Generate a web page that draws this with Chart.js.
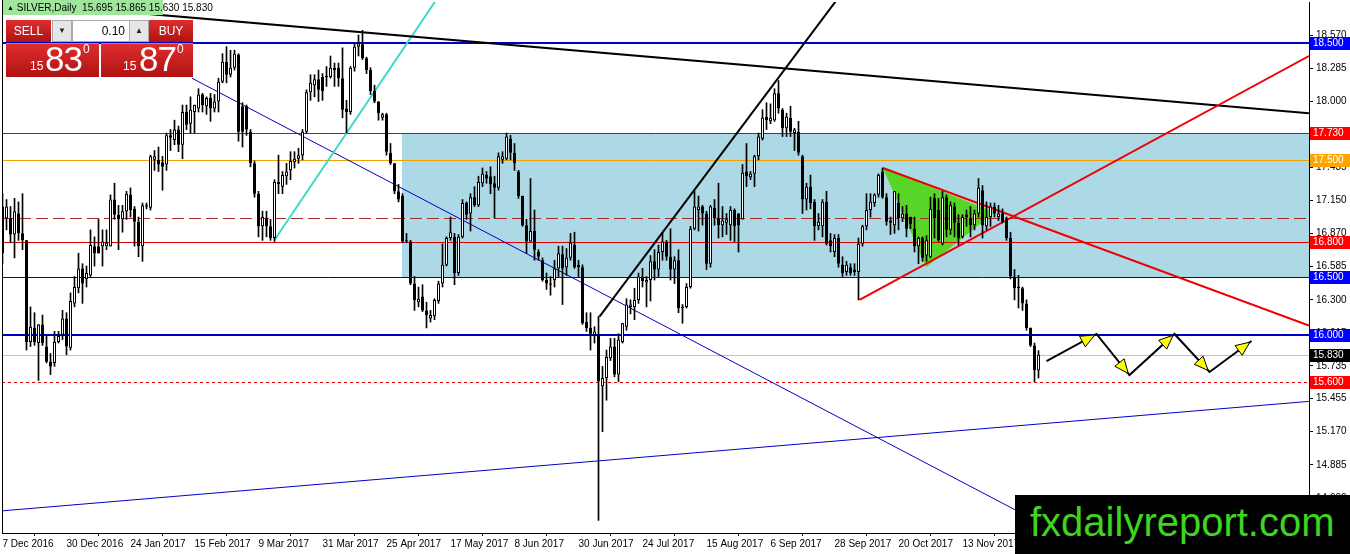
<!DOCTYPE html>
<html>
<head>
<meta charset="utf-8">
<script src="https://cdn.jsdelivr.net/npm/chart.js@4.4.1/dist/chart.umd.min.js"></script>
<style>
html, body { margin: 0; padding: 0; background: #fff; }
#wrap { position: relative; width: 1350px; height: 554px; overflow: hidden; font-family: "Liberation Sans", Arial, sans-serif; }
#chart { position: absolute; left: 0; top: 0; }
#titlebg { position: absolute; left: 3px; top: 0; width: 160px; height: 15px; background: #9fe59b; }
#title { position: absolute; left: 7px; top: 2px; font-size: 10px; line-height: 12px; color: #000; white-space: pre; }
#title .tri { font-size: 7px; vertical-align: 1px; }
.red { position: absolute; background: linear-gradient(#de2e2e, #b01212); color: #fff; }
.btn { font-size: 12px; text-align: center; line-height: 22px; }
.spin { position: absolute; background: #e6e6e6; border: 1px solid #aaa; box-sizing: border-box; font-size: 8px; text-align: center; line-height: 20px; color: #222; }
#lot { position: absolute; left: 72px; top: 20px; width: 58px; height: 22px; background: #fff; border: 1px solid #aaa; box-sizing: border-box; font-size: 12px; line-height: 20px; text-align: right; padding-right: 4px; color: #000; }
.pv { position: absolute; line-height: 1; color: #fff; }
#logo { position: absolute; left: 1015px; top: 495px; width: 335px; height: 59px; background: #000; color: #3ed41f; font-size: 40px; line-height: 54px; padding-left: 15px; box-sizing: border-box; white-space: nowrap; }
</style>
</head>
<body>
<div id="wrap">
<canvas id="chart" width="1350" height="554"></canvas>
<div id="titlebg"></div>
<div id="title"><span class="tri">▲</span> SILVER,Daily  15.695 15.865 15.630 15.830</div>

<div class="red btn" style="left:6px;top:20px;width:45px;height:22px;">SELL</div>
<div class="spin" style="left:52px;top:20px;width:20px;height:22px;">▼</div>
<div id="lot">0.10</div>
<div class="spin" style="left:129px;top:20px;width:20px;height:22px;">▲</div>
<div class="red btn" style="left:149px;top:20px;width:44px;height:22px;">BUY</div>

<div class="red" style="left:6px;top:43px;width:93px;height:33px;border-top:1px solid #e86a6a;"></div>
<div class="red" style="left:101px;top:43px;width:92px;height:33px;border-top:1px solid #e86a6a;"></div>
<div class="pv" style="left:30px;top:60px;font-size:12px;">15</div>
<div class="pv" style="left:45px;top:41px;font-size:35px;letter-spacing:-1px;">83</div>
<div class="pv" style="left:83px;top:43px;font-size:12px;">0</div>
<div class="pv" style="left:123px;top:60px;font-size:12px;">15</div>
<div class="pv" style="left:139px;top:41px;font-size:35px;letter-spacing:-1px;">87</div>
<div class="pv" style="left:177px;top:43px;font-size:12px;">0</div>

<div id="logo">fxdailyreport.com</div>
</div>

<script>
// daily candles, bar 0 = 7 Dec 2016
const opens = [
  16.70,17.00,17.00,16.86,17.04,16.87,16.81,15.94,16.06,15.93,
  16.09,15.90,15.77,15.76,15.94,16.00,16.14,15.89,16.27,16.40,
  16.57,16.48,16.51,16.76,16.76,16.76,16.76,16.76,17.16,17.03,
  16.99,17.06,17.20,17.08,16.97,16.76,17.10,17.09,17.50,17.50,
  17.48,17.46,17.71,17.67,17.76,17.63,17.91,17.81,17.91,17.94,
  18.06,17.96,18.03,17.94,18.00,18.17,18.34,18.23,18.29,18.40,
  17.96,17.96,17.74,17.47,17.21,16.93,17.00,16.93,16.83,17.31,
  17.27,17.36,17.41,17.48,17.51,17.54,17.74,18.08,18.14,18.19,
  18.21,18.21,18.21,18.29,18.29,18.20,17.94,17.91,18.29,18.47,
  18.49,18.37,18.27,18.09,18.00,17.86,17.89,17.56,17.47,17.23,
  17.19,16.81,16.80,16.44,16.28,16.33,16.21,16.14,16.16,16.29,
  16.44,16.60,16.83,16.84,16.53,16.84,17.13,17.04,17.18,17.11,
  17.30,17.37,17.36,17.30,17.26,17.50,17.51,17.68,17.56,17.40,
  17.19,16.94,16.80,16.89,16.71,16.64,16.47,16.43,16.47,16.57,
  16.69,16.58,16.66,16.77,16.60,16.58,16.11,16.06,16.00,16.01,
  15.56,15.63,15.80,15.90,15.66,15.94,16.07,16.24,16.24,16.30,
  16.50,16.45,16.47,16.63,16.56,16.71,16.80,16.67,16.56,16.64,
  16.24,16.24,16.41,16.91,17.07,17.10,17.04,16.61,17.09,17.00,
  16.94,16.96,16.94,17.07,17.04,16.99,17.40,17.35,17.38,17.53,
  17.68,17.87,17.83,17.84,18.07,17.93,17.77,17.86,17.73,17.74,
  17.53,17.16,17.27,17.14,16.93,16.93,17.14,16.81,16.71,16.83,
  16.60,16.54,16.58,16.56,16.54,16.78,16.93,17.07,17.13,17.20,
  17.40,17.18,16.98,16.94,17.13,17.00,17.04,17.01,16.91,16.76,
  16.83,16.68,16.67,17.17,17.07,16.78,17.18,16.90,17.10,16.96,
  16.84,17.01,17.00,16.94,17.04,17.24,16.93,17.01,17.10,17.01,
  17.04,16.99,16.83,16.50,16.41,16.40,16.27,16.06,15.91,15.695
];
const highs = [
  17.21,17.16,17.10,17.17,17.14,17.21,16.81,16.24,16.19,16.09,
  16.17,15.99,15.84,16.03,16.03,16.21,16.19,16.36,16.50,16.70,
  16.61,16.59,16.90,16.84,16.99,16.90,16.90,17.20,17.30,17.11,
  17.11,17.23,17.26,17.10,17.01,17.13,17.13,17.54,17.58,17.61,
  17.53,17.73,17.76,17.84,17.79,17.97,17.97,18.04,17.97,18.11,
  18.07,18.04,18.07,18.06,18.20,18.41,18.47,18.44,18.44,18.41,
  17.99,17.97,17.76,17.49,17.23,17.06,17.06,16.99,17.33,17.54,
  17.40,17.47,17.57,17.57,17.60,17.76,18.10,18.23,18.23,18.27,
  18.24,18.30,18.39,18.33,18.33,18.46,18.01,18.30,18.50,18.57,
  18.61,18.38,18.29,18.14,18.00,17.90,17.90,17.64,17.47,17.29,
  17.21,16.87,16.81,16.50,16.41,16.43,16.28,16.21,16.31,16.46,
  16.78,16.84,17.01,16.87,16.86,17.16,17.14,17.21,17.27,17.36,
  17.43,17.40,17.44,17.36,17.56,17.57,17.73,17.71,17.64,17.41,
  17.19,16.99,17.34,17.07,16.73,16.66,16.53,16.50,16.64,16.76,
  16.76,16.74,16.87,16.88,16.64,16.60,16.19,16.19,16.07,16.16,
  15.73,15.87,15.97,15.97,16.01,16.10,16.31,16.30,16.40,16.53,
  16.57,16.50,16.68,16.73,16.77,16.88,16.81,16.91,16.67,16.73,
  16.26,16.44,16.93,17.23,17.19,17.11,17.06,17.11,17.16,17.30,
  17.10,17.04,17.10,17.08,17.04,17.46,17.64,17.40,17.54,17.73,
  17.93,17.99,17.98,18.11,18.18,17.94,17.90,17.96,17.77,17.83,
  17.54,17.30,17.37,17.16,17.04,17.16,17.23,16.87,16.86,16.86,
  16.67,16.63,16.61,16.61,16.83,16.94,17.21,17.21,17.21,17.38,
  17.43,17.21,17.01,17.23,17.21,17.10,17.11,17.01,17.01,16.84,
  16.84,16.85,17.18,17.21,17.17,17.23,17.20,17.14,17.13,17.03,
  17.03,17.07,17.10,17.07,17.34,17.28,17.14,17.13,17.13,17.11,
  17.08,17.01,16.88,16.56,16.51,16.41,16.30,16.06,15.93,15.865
];
const lows = [
  16.61,16.90,16.79,16.66,16.81,16.73,15.87,15.90,15.91,15.61,
  15.91,15.76,15.66,15.73,15.93,15.96,15.83,15.87,16.24,16.36,
  16.27,16.41,16.50,16.59,16.70,16.59,16.73,16.76,16.99,16.73,
  16.88,16.99,17.01,16.76,16.67,16.63,17.08,17.07,17.41,17.40,
  17.24,17.41,17.58,17.63,17.57,17.51,17.76,17.73,17.73,17.91,
  17.91,17.89,17.83,17.91,17.91,18.16,18.16,18.21,18.27,17.66,
  17.61,17.71,17.44,17.18,16.84,16.81,16.84,16.81,16.80,17.21,
  17.21,17.29,17.33,17.43,17.47,17.50,17.73,18.01,18.04,18.00,
  18.01,18.13,18.20,18.13,18.13,17.86,17.73,17.89,18.26,18.39,
  18.36,18.24,18.06,17.99,17.84,17.84,17.54,17.46,17.21,17.14,
  16.79,16.79,16.43,16.21,16.24,16.20,16.06,16.11,16.13,16.27,
  16.41,16.59,16.81,16.43,16.51,16.83,16.99,16.89,17.10,17.10,
  17.27,17.30,17.21,17.00,17.24,17.47,17.50,17.50,17.41,17.17,
  16.93,16.70,16.80,16.64,16.64,16.46,16.39,16.34,16.41,16.50,
  16.26,16.51,16.64,16.57,16.50,16.09,16.03,15.87,15.93,14.41,
  15.17,15.44,15.78,15.64,15.60,15.93,16.04,16.18,16.13,16.27,
  16.41,16.24,16.29,16.47,16.50,16.64,16.64,16.47,16.44,16.19,
  16.10,16.23,16.40,16.90,16.89,16.94,16.56,16.58,16.94,16.83,
  16.84,16.86,16.81,16.80,16.71,16.99,17.27,17.33,17.27,17.50,
  17.67,17.76,17.81,17.83,17.90,17.70,17.70,17.70,17.58,17.54,
  17.04,17.07,17.08,16.81,16.90,16.84,16.77,16.71,16.67,16.58,
  16.50,16.51,16.51,16.51,16.30,16.76,16.90,17.01,17.10,17.18,
  17.17,16.94,16.86,16.87,16.90,16.97,16.84,16.91,16.71,16.61,
  16.63,16.63,16.66,16.83,16.80,16.77,16.84,16.86,16.84,16.77,
  16.83,16.93,16.84,16.90,17.01,16.83,16.90,16.93,17.01,16.98,
  16.96,16.81,16.48,16.30,16.23,16.21,16.04,15.90,15.60,15.63
];
const closes = [
  17.10,17.10,16.86,17.06,16.87,16.81,15.94,16.07,15.94,16.09,
  15.93,15.77,15.73,15.94,15.99,16.14,15.90,16.29,16.41,16.57,
  16.44,16.53,16.77,16.70,16.70,16.80,16.79,17.16,17.03,16.99,
  17.06,17.21,17.07,16.97,16.76,17.11,17.11,17.53,17.53,17.46,
  17.44,17.71,17.69,17.76,17.63,17.91,17.80,17.93,17.97,18.06,
  17.97,18.03,17.94,18.00,18.17,18.34,18.23,18.29,18.41,17.74,
  17.74,17.76,17.47,17.21,16.93,17.01,16.93,16.83,17.31,17.29,
  17.37,17.40,17.49,17.51,17.54,17.74,18.08,18.16,18.19,18.10,
  18.09,18.22,18.29,18.27,18.20,17.93,17.91,18.29,18.47,18.50,
  18.37,18.27,18.09,18.00,17.90,17.89,17.57,17.47,17.23,17.16,
  16.80,16.80,16.44,16.30,16.31,16.21,16.17,16.17,16.30,16.44,
  16.60,16.83,16.88,16.53,16.84,17.13,17.03,17.18,17.11,17.31,
  17.38,17.34,17.29,17.26,17.53,17.53,17.70,17.56,17.47,17.19,
  16.94,16.80,16.89,16.73,16.67,16.47,16.44,16.44,16.57,16.70,
  16.57,16.66,16.79,16.58,16.58,16.10,16.06,16.01,16.03,15.60,
  15.63,15.81,15.90,15.66,15.96,16.10,16.26,16.26,16.30,16.50,
  16.46,16.47,16.63,16.56,16.71,16.80,16.67,16.56,16.64,16.23,
  16.23,16.41,16.91,17.10,17.10,17.04,16.61,17.10,17.00,16.94,
  16.98,16.99,17.07,16.93,16.94,17.39,17.36,17.38,17.53,17.70,
  17.86,17.84,17.86,18.07,17.94,17.77,17.87,17.74,17.76,17.56,
  17.16,17.27,17.13,16.93,16.97,17.14,16.78,16.76,16.83,16.61,
  16.53,16.60,16.53,16.54,16.78,16.93,17.07,17.14,17.20,17.37,
  17.18,16.97,16.96,17.23,17.00,17.04,16.91,16.95,16.76,16.83,
  16.66,16.81,17.08,17.00,16.81,17.18,16.90,17.11,16.96,16.83,
  17.01,17.03,16.94,17.04,17.26,16.94,17.01,17.10,17.04,17.04,
  16.97,16.83,16.50,16.40,16.40,16.27,16.06,15.91,15.70,15.83
];

// time axis labels every 16 bars
const dateIdx = [0, 16, 32, 48, 64, 80, 96, 112, 128, 144, 160, 176, 192, 208, 224, 240];
const dateLabels = ["7 Dec 2016", "30 Dec 2016", "24 Jan 2017", "15 Feb 2017", "9 Mar 2017",
  "31 Mar 2017", "25 Apr 2017", "17 May 2017", "8 Jun 2017", "30 Jun 2017", "24 Jul 2017",
  "15 Aug 2017", "6 Sep 2017", "28 Sep 2017", "20 Oct 2017", "13 Nov 2017"];
const priceTicks = [18.570, 18.285, 18.000, 17.715, 17.435, 17.150, 16.870, 16.585,
  16.300, 16.015, 15.735, 15.455, 15.170, 14.885, 14.600];

// horizontal levels drawn on the chart
const levels = [18.500, 17.730, 17.500, 17.000, 16.800, 16.500, 16.000, 15.830, 15.600];

// drawn objects, [bar, price]
const zoneFrom = 99.9;
const zonePrices = [17.730, 16.500];
const wedge = [[220.1, 17.43], [230.9, 16.58], [248.0, 17.05]];
const lineTop = [[-0.75, 18.86], [326.6, 17.90]];
const lineRise = [[149.25, 16.156], [212.25, 19.04]];
const lineCyan = [[68.0, 16.813], [110.1, 18.956]];
const lineBlueDown = [[47.4, 18.199], [254.3, 14.48]];
const lineBlueUp = [[-0.75, 14.49], [326.6, 15.43]];
const lineRedUp = [[214.25, 16.30], [326.6, 18.39]];
const lineRedDown = [[220.1, 17.43], [326.6, 16.08]];
const zigzag = [[261.0, 15.776], [273.5, 16.008], [281.75, 15.656], [293.0, 16.008], [301.75, 15.682], [312.25, 15.948]];

const xMin = -0.125, xMax = 326.625;
const yMin = 14.302, yMax = 18.853;

const levelStyle = [
  { color: '#0000c8', width: 2, dash: [], box: '#0000ff' },
  { color: '#e00000', width: 1, dash: [], box: '#ff0000' },
  { color: '#f0a000', width: 1, dash: [], box: '#ffa500' },
  { color: '#a52a2a', width: 1, dash: [12, 5], box: null },
  { color: '#e00000', width: 1, dash: [], box: '#ff0000' },
  { color: '#0000c8', width: 1, dash: [], box: '#0000ff' },
  { color: '#0000c8', width: 2, dash: [], box: '#0000ff' },
  { color: '#c0c0c0', width: 1, dash: [], box: '#000000' },
  { color: '#e00000', width: 1, dash: [3, 3], box: '#ff0000' }
];

const bars = closes.map((_, i) => i);

function seg(points, color, width, order) {
  return {
    type: 'line',
    data: points.map(p => ({ x: p[0], y: p[1] })),
    borderColor: color,
    borderWidth: width,
    pointRadius: 0,
    fill: false,
    tension: 0,
    order: order
  };
}

// candles on top of the drawn objects (chart in foreground)
const datasets = [
  {
    type: 'bar',
    data: bars.map(i => ({ x: i, y: [lows[i], highs[i]] })),
    backgroundColor: '#000',
    maxBarThickness: 1,
    grouped: false,
    categoryPercentage: 1,
    barPercentage: 1,
    order: 1
  },
  {
    type: 'bar',
    data: bars.map(i => ({ x: i, y: [opens[i], closes[i]] })),
    backgroundColor: bars.map(i => closes[i] >= opens[i] ? '#ffffff' : '#000000'),
    borderColor: '#000',
    borderWidth: 1,
    borderSkipped: false,
    grouped: false,
    categoryPercentage: 1,
    barPercentage: 0.75,
    minBarLength: 1,
    order: 0
  },
  seg(lineTop, '#000000', 2, 5),
  seg(lineRise, '#000000', 2, 5),
  seg(lineCyan, '#40d8c8', 2, 5),
  seg(lineBlueDown, '#0000c8', 1, 5),
  seg(lineBlueUp, '#0000c8', 1, 5),
  seg(lineRedUp, '#ee0000', 2, 4),
  seg(lineRedDown, '#ee0000', 2, 4),
  seg(zigzag, '#000000', 2, 3)
];

const overlay = {
  id: 'overlay',
  beforeDatasetsDraw(chart) {
    const { ctx, chartArea: a, scales: { x, y } } = chart;
    ctx.save();
    ctx.beginPath();
    ctx.rect(a.left, a.top, a.right - a.left, a.bottom - a.top);
    ctx.clip();
    const zx = Math.round(x.getPixelForValue(zoneFrom));
    const zt = Math.round(y.getPixelForValue(zonePrices[0]));
    const zb = Math.round(y.getPixelForValue(zonePrices[1]));
    ctx.fillStyle = '#add8e6';
    ctx.fillRect(zx, zt, a.right - zx, zb - zt);
    ctx.fillStyle = '#58d628';
    ctx.beginPath();
    wedge.forEach((p, k) => {
      const px = x.getPixelForValue(p[0]), py = y.getPixelForValue(p[1]);
      if (k) ctx.lineTo(px, py); else ctx.moveTo(px, py);
    });
    ctx.closePath();
    ctx.fill();
    // horizontal levels, snapped to whole pixels
    levels.forEach((lv, k) => {
      const s = levelStyle[k];
      let py = Math.round(y.getPixelForValue(lv));
      if (s.width === 1) py += 0.5;
      ctx.strokeStyle = s.color;
      ctx.lineWidth = s.width;
      ctx.setLineDash(s.dash);
      ctx.beginPath();
      ctx.moveTo(a.left, py);
      ctx.lineTo(a.right, py);
      ctx.stroke();
    });
    ctx.restore();
  },
  afterDatasetsDraw(chart) {
    const { ctx, scales: { x, y } } = chart;
    ctx.save();
    // arrow heads on the zigzag
    for (let k = 1; k < zigzag.length; k++) {
      const x0 = x.getPixelForValue(zigzag[k - 1][0]), y0 = y.getPixelForValue(zigzag[k - 1][1]);
      const x1 = x.getPixelForValue(zigzag[k][0]), y1 = y.getPixelForValue(zigzag[k][1]);
      const ang = Math.atan2(y1 - y0, x1 - x0);
      const tx = x1 - Math.cos(ang) * 2, ty = y1 - Math.sin(ang) * 2;
      const L = 14, W = 6;
      const bx = tx - Math.cos(ang) * L, by = ty - Math.sin(ang) * L;
      ctx.beginPath();
      ctx.moveTo(tx, ty);
      ctx.lineTo(bx + Math.sin(ang) * W, by - Math.cos(ang) * W);
      ctx.lineTo(bx - Math.sin(ang) * W, by + Math.cos(ang) * W);
      ctx.closePath();
      ctx.fillStyle = '#ffff00';
      ctx.fill();
      ctx.strokeStyle = '#000';
      ctx.lineWidth = 1;
      ctx.stroke();
    }
    ctx.restore();
  },
  afterDraw(chart) {
    const { ctx, chartArea: a, scales: { y } } = chart;
    ctx.save();
    ctx.strokeStyle = '#000';
    ctx.lineWidth = 1;
    ctx.beginPath();
    ctx.moveTo(a.left + 0.5, 0);
    ctx.lineTo(a.left + 0.5, a.bottom);
    ctx.stroke();
    ctx.font = '10px "Liberation Sans", Arial, sans-serif';
    ctx.textBaseline = 'middle';
    levels.forEach((lv, k) => {
      const s = levelStyle[k];
      if (!s.box) return;
      const py = Math.round(y.getPixelForValue(lv));
      ctx.fillStyle = s.box;
      ctx.fillRect(a.right + 1, py - 6, 41, 13);
      ctx.fillStyle = '#fff';
      ctx.fillText(lv.toFixed(3), a.right + 4, py + 0.5);
    });
    ctx.restore();
  }
};

Chart.defaults.font.family = '"Liberation Sans", Arial, sans-serif';
Chart.defaults.font.size = 10;
Chart.defaults.color = '#000';

new Chart(document.getElementById('chart'), {
  type: 'bar',
  data: { datasets: datasets },
  plugins: [overlay],
  options: {
    responsive: false,
    animation: false,
    layout: { padding: { left: 2, top: 2, right: 0, bottom: 0 } },
    plugins: { legend: { display: false }, tooltip: { enabled: false } },
    scales: {
      x: {
        type: 'linear',
        position: 'bottom',
        min: xMin,
        max: xMax,
        offset: false,
        grid: { display: true, drawOnChartArea: false, drawTicks: true, tickLength: 3, color: '#000' },
        border: { display: true, color: '#000' },
        ticks: {
          autoSkip: false,
          maxRotation: 0,
          align: 'start',
          padding: 2,
          callback: (v) => {
            const k = dateIdx.indexOf(v);
            return k >= 0 ? dateLabels[k] : '';
          }
        },
        afterBuildTicks: (s) => { s.ticks = dateIdx.map(v => ({ value: v })); },
        afterFit: (s) => { s.height = 21; s.paddingLeft = 0; s.paddingRight = 0; }
      },
      y: {
        type: 'linear',
        position: 'right',
        min: yMin,
        max: yMax,
        beginAtZero: false,
        grid: { display: true, drawOnChartArea: false, drawTicks: true, tickLength: 4, color: '#000' },
        border: { display: true, color: '#000' },
        ticks: { padding: 3, callback: (v) => Number(v).toFixed(3) },
        afterBuildTicks: (s) => { s.ticks = priceTicks.map(v => ({ value: v })); },
        afterFit: (s) => { s.width = 41; s.paddingTop = 0; s.paddingBottom = 0; }
      }
    }
  }
});
</script>
</body>
</html>
